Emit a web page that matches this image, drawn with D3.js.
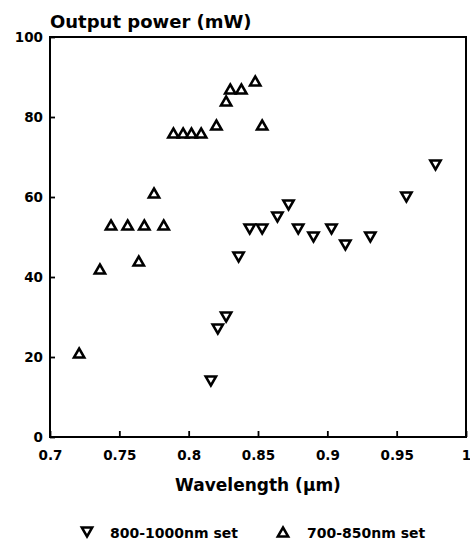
<!DOCTYPE html>
<html>
<head>
<meta charset="utf-8">
<script src="https://cdn.jsdelivr.net/npm/d3@7"></script>
<style>
    html, body { margin: 0; padding: 0; background: #fff; }
    text { font-family: "DejaVu Sans", sans-serif; font-weight: bold; fill: #000; }
    .axis text { font-size: 13.5px; }
    .axis line { stroke: #000; stroke-width: 1.8; }
</style>
</head>
<body>
<div id="fig"></div>
<script>
// ------------------------------ Data ------------------------------------
var xTicks = [0.7, 0.75, 0.8, 0.85, 0.9, 0.95, 1];
var xTickLabels = ["0.7", "0.75", "0.8", "0.85", "0.9", "0.95", "1"];
var yTicks = [0, 20, 40, 60, 80, 100];
var yTickLabels = ["0", "20", "40", "60", "80", "100"];

// 700-850nm set (up triangles)
var upWavelength = [0.721, 0.736, 0.744, 0.756, 0.764, 0.768, 0.775, 0.782, 0.789, 0.796, 0.802, 0.809, 0.820, 0.827, 0.830, 0.838, 0.848, 0.853];
var upPower = [21, 42, 53, 53, 44, 53, 61, 53, 76, 76, 76, 76, 78, 84, 87, 87, 89, 78];

// 800-1000nm set (down triangles)
var downWavelength = [0.816, 0.821, 0.827, 0.836, 0.844, 0.853, 0.864, 0.872, 0.879, 0.890, 0.903, 0.913, 0.931, 0.957, 0.978];
var downPower = [14, 27, 30, 45, 52, 52, 55, 58, 52, 50, 52, 48, 50, 60, 68];

var seriesNames = ["800-1000nm set", "700-850nm set"];

(function (d3) {
    "use strict";

    var margin = { top: 37, right: 4, bottom: 104, left: 50 };
    var width = 470 - margin.left - margin.right;
    var height = 541 - margin.top - margin.bottom;

    var svg = d3.select("#fig").append("svg")
        .attr("width", 470)
        .attr("height", 541);

    var g = svg.append("g")
        .attr("transform", "translate(" + margin.left + "," + margin.top + ")");

    // Scales
    var xScale = d3.scaleLinear().domain([0.7, 1]).range([0, width]);
    var yScale = d3.scaleLinear().domain([0, 100]).range([height, 0]);

    // Axes (ticks point inward)
    var xAxis = d3.axisBottom(xScale)
        .tickValues(xTicks)
        .tickFormat(function (d, i) { return xTickLabels[i]; })
        .tickSizeInner(-6).tickSizeOuter(0).tickPadding(13);
    var yAxis = d3.axisLeft(yScale)
        .tickValues(yTicks)
        .tickFormat(function (d, i) { return yTickLabels[i]; })
        .tickSizeInner(-5).tickSizeOuter(0).tickPadding(7);

    g.append("g").attr("class", "x axis")
        .attr("transform", "translate(0," + height + ")")
        .call(xAxis);
    g.append("g").attr("class", "y axis")
        .call(yAxis);
    g.selectAll(".domain").remove();

    // Frame
    g.append("rect")
        .attr("width", width).attr("height", height)
        .attr("fill", "none").attr("stroke", "#000").attr("stroke-width", 2);

    // Triangle symbols
    function triangle(up) {
        var s = up ? 1 : -1;
        return "M0," + (-4.5 * s) + "L5.2," + (4.5 * s) + "L-5.2," + (4.5 * s) + "Z";
    }

    function drawPoints(xs, ys, up) {
        g.selectAll(null)
            .data(xs.map(function (x, i) { return { x: x, y: ys[i] }; }))
            .enter().append("path")
            .attr("d", triangle(up))
            .attr("transform", function (d) {
                return "translate(" + xScale(d.x) + "," + yScale(d.y) + ")";
            })
            .attr("fill", "#fff").attr("stroke", "#000")
            .attr("stroke-width", 2.5).attr("stroke-linejoin", "miter");
    }
    drawPoints(upWavelength, upPower, true);
    drawPoints(downWavelength, downPower, false);

    // Labels
    svg.append("text")
        .attr("x", 50).attr("y", 28)
        .style("font-size", "18px")
        .text("Output power (mW)");

    svg.append("text")
        .attr("x", margin.left + width / 2).attr("y", 491)
        .attr("text-anchor", "middle")
        .style("font-size", "17px")
        .text("Wavelength (µm)");

    // Legend
    var legendItems = [
        { name: seriesNames[0], up: false, sx: 87, tx: 110 },
        { name: seriesNames[1], up: true, sx: 283, tx: 307 }
    ];
    legendItems.forEach(function (item) {
        svg.append("path")
            .attr("d", triangle(item.up))
            .attr("transform", "translate(" + item.sx + ",532)")
            .attr("fill", "#fff").attr("stroke", "#000").attr("stroke-width", 2.5);
        svg.append("text")
            .attr("x", item.tx).attr("y", 538)
            .style("font-size", "14px")
            .text(item.name);
    });
})(d3);
</script>
</body>
</html>
